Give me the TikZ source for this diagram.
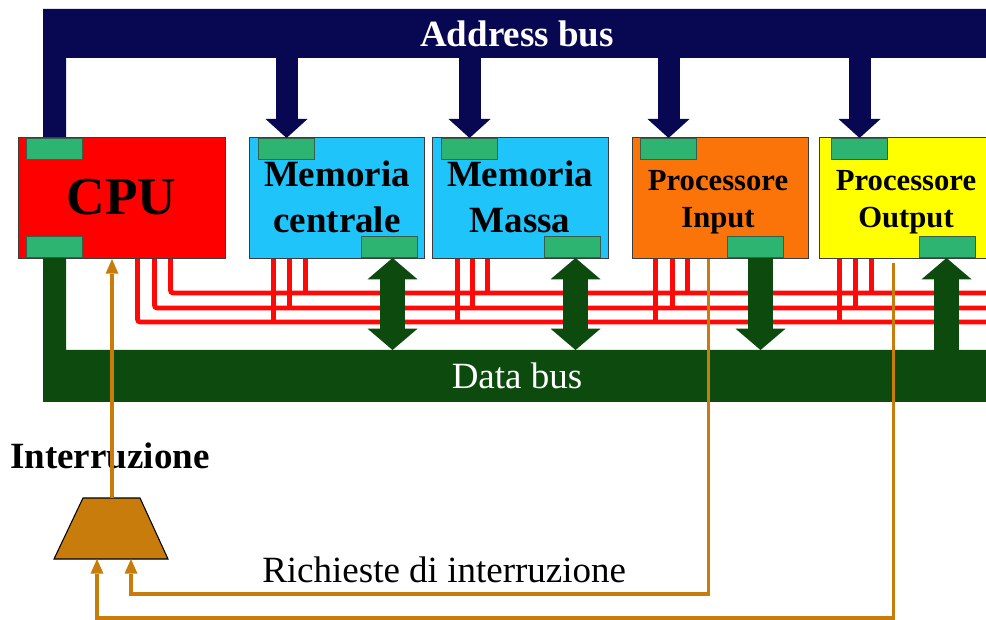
\documentclass[tikz,border=0pt]{standalone}
\usepackage{fontspec}
\setmainfont{Liberation Serif}
\usetikzlibrary{arrows.meta,calc}

\definecolor{navybus}{RGB}{8,8,82}
\definecolor{greenbus}{RGB}{12,74,14}
\definecolor{cpured}{RGB}{255,0,0}
\definecolor{memblue}{RGB}{30,196,250}
\definecolor{inorange}{RGB}{250,116,10}
\definecolor{outyellow}{RGB}{255,255,0}
\definecolor{padgreen}{RGB}{44,180,112}
\definecolor{irqbrown}{RGB}{200,124,12}
\definecolor{edgegray}{RGB}{60,60,60}
\definecolor{wirered}{RGB}{255,8,8}

\begin{document}
\begin{tikzpicture}[x=0.75pt,y=-0.75pt,
  unitbox/.style={draw=edgegray, line width=0.8pt, minimum height=90.75pt,
    inner sep=0pt, anchor=north west},
  pad/.style={draw=edgegray!70!padgreen, line width=0.8pt, fill=padgreen,
    minimum width=42pt, minimum height=15.75pt, inner sep=0pt},
  txt/.style={anchor=base, inner sep=0pt, font=\fontsize{27.75}{30}\selectfont},
  boldtxt/.style={txt, font=\fontsize{27.75}{30}\selectfont\bfseries},
  proctxt/.style={txt, font=\fontsize{23}{26}\selectfont\bfseries},
  addrarrow/.style={draw=navybus, line width=16.5pt,
    -{Triangle[width=31.5pt,length=14.25pt,line width=0pt]}},
  datatip/.tip={Triangle[width=37.5pt,length=16pt,line width=0pt]},
  dataarrow/.style={draw=greenbus, line width=18.75pt},
  redwire/.style={draw=wirered, line width=3.6pt, rounded corners=2pt},
  irqline/.style={draw=irqbrown, line width=2.6pt},
  irqtip/.tip={Triangle[width=9.75pt,length=11pt,line width=0pt]}
]
\useasboundingbox (0,0) rectangle (986,620);
\clip (0,0) rectangle (986,620);
\fill[white] (0,0) rectangle (986,620);

% ---- units ----
\node[unitbox, fill=cpured, minimum width=155.25pt] (cpu) at (18,137) {};
\node[unitbox, fill=memblue, minimum width=131.25pt] (mc) at (249,137) {};
\node[unitbox, fill=memblue, minimum width=132pt] (mm) at (432,137) {};
\node[unitbox, fill=inorange, minimum width=132pt] (pi) at (632,137) {};
\node[unitbox, fill=outyellow, minimum width=135.75pt] (po) at (819,137) {};

% ---- bus connection pads ----
\node[pad, anchor=north west] (cpuA) at (26,138) {};
\node[pad, anchor=south west] (cpuD) at (26,258) {};
\node[pad, anchor=north west] (mcA) at (258,138) {};
\node[pad, anchor=south west] (mcD) at (361,258) {};
\node[pad, anchor=north west] (mmA) at (441,138) {};
\node[pad, anchor=south west] (mmD) at (544,258) {};
\node[pad, anchor=north west] (piA) at (640,138) {};
\node[pad, anchor=south west] (piD) at (727,258) {};
\node[pad, anchor=north west] (poA) at (831,138) {};
\node[pad, anchor=south west] (poD) at (919,258) {};

% ---- unit labels ----
\node[txt, font=\fontsize{40}{44}\selectfont\bfseries] (cputxt) at (121.5,215) {CPU};
\node[boldtxt] (mc1) at (337,187) {Memoria};
\node[boldtxt] (mc2) at (337,233) {centrale};
\node[boldtxt] (mm1) at (520,187) {Memoria};
\node[boldtxt] (mm2) at (520,233) {Massa};
\node[proctxt] (pi1) at (718,191) {Processore};
\node[proctxt] (pi2) at (718,228) {Input};
\node[proctxt] (po1) at (906,191) {Processore};
\node[proctxt] (po2) at (906,228) {Output};

% ---- control lines (red) ----
\coordinate (rA) at (1000,322);
\coordinate (rB) at (1000,308);
\coordinate (rC) at (1000,293);
\draw[redwire] ($(cpu.south)+(15.5,0)$) |- (rA);
\draw[redwire] ($(cpu.south)+(32.5,0)$) |- (rB);
\draw[redwire] ($(cpu.south)+(48.5,0)$) |- (rC);
\foreach \b/\o/\l in {mc/-63.5/rA, mc/-47.5/rB, mc/-31.5/rC,
                      mm/-63/rA, mm/-48/rB, mm/-33/rC,
                      pi/-65/rA, pi/-48/rB, pi/-33/rC,
                      po/-70.5/rA, po/-54.5/rB, po/-38.5/rC} {
  \coordinate (drop) at ($(\b.south)+(\o,0)$);
  \draw[redwire] (drop) -- (drop |- \l);
}

% ---- address bus ----
\coordinate (abus) at (0,57);
\fill[navybus] (43,137) |- (1000,9) |- (66,58) -- (66,137) -- cycle;
\node[boldtxt, text=white] (abustxt) at (517,47) {Address bus};
\foreach \p in {mcA, mmA, piA, poA}
  \draw[addrarrow] (\p.north |- abus) -- (\p.north);

% ---- data bus ----
\coordinate (dbus) at (0,350);
\fill[greenbus] (43,258) |- (1000,402) |- (66,350) -- (66,258) -- cycle;
\node[txt, text=white] (dbustxt) at (517,388) {Data bus};
\coordinate (mcP) at ($(mcD.south)+(3,0)$);
\coordinate (mmP) at ($(mmD.south)+(3,0)$);
\coordinate (piP) at ($(piD.south)+(5,0)$);
\coordinate (poP) at ($(poD.south)+(-1,0)$);
\draw[dataarrow, datatip-datatip] (mcP) -- (mcP |- dbus);
\draw[dataarrow, datatip-datatip] (mmP) -- (mmP |- dbus);
\draw[dataarrow, -datatip] (piP) -- (piP |- dbus);
\draw[dataarrow, -datatip] (poP |- dbus) -- (poP);

% ---- interrupt logic ----
\filldraw[fill=irqbrown, draw=black, line width=0.8pt]
  (83,498) -- (140,498) -- (168,559) -- (54,559) -- cycle;
\coordinate (irqN) at (112,498);
\coordinate (irqS) at (111,559);
\node[boldtxt, anchor=base west] (irqtxt) at (10,468) {Interruzione};
\node[txt, anchor=base west] (reqtxt) at (262,582) {Richieste di interruzione};

\draw[irqline, -irqtip] (irqN) -- (irqN |- cpu.south);

\coordinate (lowA) at (0,594);
\coordinate (lowB) at (0,618);
\coordinate (inReq) at ($(pi.south)+(-12,0)$);
\coordinate (inPin) at ($(irqS)+(20,0)$);
\coordinate (outReq) at ($(po.south)+(-16.5,4)$);
\coordinate (outPin) at ($(irqS)+(-14,0)$);
\draw[irqline, -irqtip] (inReq) -- (inReq |- lowA) -| (inPin);
\draw[irqline, -irqtip] (outReq) -- (outReq |- lowB) -| (outPin);
\end{tikzpicture}
\end{document}
